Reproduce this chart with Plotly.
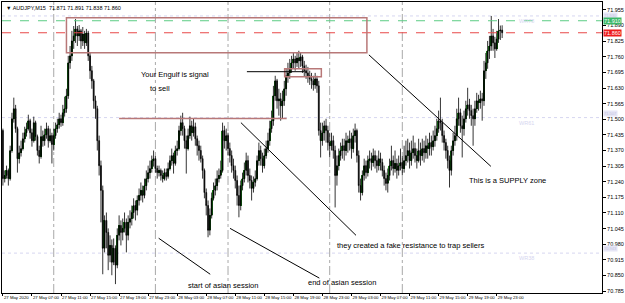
import plotly.graph_objects as go

first_open = 71.453
close = [
71.253,71.266,71.287,71.253,71.370,71.502,71.544,71.461,71.336,71.361,
71.378,71.419,71.444,71.461,71.494,71.444,71.411,71.486,71.428,71.370,
71.345,71.428,71.411,71.436,71.461,71.411,71.432,71.395,71.432,71.461,
71.478,71.502,71.486,71.527,71.544,71.598,71.735,71.764,71.826,71.847,
71.876,71.847,71.868,71.826,71.855,71.818,71.859,71.764,71.702,71.660,
71.577,71.544,71.411,71.307,71.204,70.963,71.079,71.029,70.934,70.975,
70.905,70.963,70.893,71.017,71.058,71.029,71.046,71.071,71.017,71.071,
71.087,71.112,71.141,71.121,71.162,71.183,71.204,71.183,71.224,71.253,
71.278,71.295,71.328,71.336,71.295,71.278,71.287,71.266,71.253,71.278,
71.262,71.295,71.328,71.349,71.316,71.370,71.378,71.453,71.486,71.461,
71.411,71.378,71.432,71.473,71.444,71.469,71.419,71.390,71.370,71.336,
71.287,71.195,71.141,71.038,71.100,71.171,71.204,71.224,71.253,71.266,
71.287,71.453,71.411,71.432,71.378,71.349,71.307,71.287,71.245,71.183,
71.141,71.224,71.253,71.287,71.328,71.266,71.245,71.212,71.237,71.253,
71.328,71.370,71.336,71.307,71.349,71.378,71.411,71.461,71.494,71.598,
71.660,71.577,71.585,71.556,71.577,71.627,71.681,71.693,71.710,71.735,
71.751,71.735,71.755,71.743,71.760,71.722,71.702,71.693,71.681,71.668,
71.660,71.643,71.668,71.639,71.453,71.411,71.444,71.473,71.453,71.403,
71.390,71.411,71.370,71.266,71.307,71.349,71.370,71.390,71.370,71.411,
71.403,71.419,71.378,71.432,71.453,71.349,71.224,71.195,71.266,71.307,
71.278,71.328,71.336,71.320,71.349,71.328,71.307,71.336,71.320,71.287,
71.253,71.233,71.266,71.307,71.328,71.295,71.316,71.287,71.307,71.320,
71.295,71.328,71.349,71.370,71.328,71.361,71.378,71.349,71.328,71.370,
71.349,71.378,71.361,71.390,71.378,71.403,71.386,71.411,71.432,71.461,
71.494,71.486,71.432,71.403,71.370,71.328,71.287,71.370,71.411,71.432,
71.502,71.527,71.473,71.461,71.502,71.544,71.560,71.536,71.515,71.502,
71.544,71.577,71.569,71.585,71.577,71.702,71.735,71.785,71.805,71.847,
71.818,71.793,71.834,71.868,71.871,71.860]
high = [
71.461,71.287,71.307,71.295,71.390,71.527,71.590,71.560,71.469,71.390,
71.411,71.444,71.469,71.486,71.519,71.502,71.461,71.511,71.494,71.436,
71.390,71.473,71.453,71.461,71.486,71.473,71.461,71.444,71.461,71.486,
71.502,71.527,71.519,71.560,71.594,71.627,71.764,71.805,71.868,71.888,
71.917,71.888,71.892,71.876,71.884,71.868,71.876,71.868,71.776,71.722,
71.668,71.598,71.556,71.432,71.328,71.224,71.100,71.112,71.046,71.017,
71.000,71.004,70.975,71.046,71.100,71.079,71.087,71.112,71.087,71.100,
71.121,71.141,71.171,71.162,71.183,71.212,71.237,71.224,71.253,71.287,
71.307,71.328,71.349,71.370,71.349,71.307,71.307,71.295,71.287,71.295,
71.295,71.320,71.349,71.378,71.361,71.390,71.411,71.473,71.515,71.527,
71.473,71.432,71.461,71.511,71.494,71.502,71.486,71.432,71.411,71.390,
71.349,71.295,71.212,71.162,71.129,71.195,71.237,71.253,71.287,71.295,
71.328,71.486,71.473,71.461,71.444,71.403,71.370,71.336,71.307,71.266,
71.224,71.245,71.278,71.320,71.361,71.349,71.295,71.266,71.262,71.287,
71.349,71.403,71.390,71.361,71.378,71.411,71.444,71.494,71.536,71.639,
71.681,71.668,71.627,71.610,71.619,71.660,71.710,71.735,71.751,71.764,
71.776,71.764,71.776,71.785,71.776,71.768,71.743,71.727,71.718,71.702,
71.693,71.681,71.693,71.681,71.660,71.486,71.486,71.494,71.502,71.473,
71.444,71.444,71.432,71.390,71.349,71.378,71.403,71.419,71.419,71.444,
71.432,71.453,71.444,71.461,71.482,71.461,71.370,71.253,71.287,71.336,
71.328,71.349,71.370,71.361,71.378,71.370,71.349,71.370,71.361,71.336,
71.307,71.278,71.295,71.336,71.390,71.349,71.370,71.336,71.349,71.378,
71.349,71.390,71.411,71.419,71.403,71.411,71.432,71.403,71.378,71.419,
71.403,71.419,71.411,71.432,71.419,71.444,71.432,71.453,71.473,71.502,
71.536,71.590,71.502,71.453,71.419,71.390,71.349,71.390,71.444,71.473,
71.544,71.590,71.544,71.515,71.536,71.577,71.631,71.585,71.560,71.544,
71.577,71.610,71.602,71.619,71.610,71.743,71.776,71.826,71.847,71.930,
71.876,71.843,71.868,71.917,71.890,71.891]
low = [
71.224,71.237,71.253,71.224,71.245,71.361,71.486,71.444,71.278,71.316,
71.345,71.370,71.403,71.428,71.453,71.419,71.386,71.403,71.411,71.349,
71.316,71.336,71.386,71.390,71.419,71.382,71.403,71.316,71.370,71.419,
71.444,71.461,71.469,71.473,71.511,71.527,71.585,71.710,71.743,71.793,
71.818,71.805,71.826,71.793,71.805,71.793,71.805,71.743,71.668,71.627,
71.544,71.502,71.370,71.266,71.071,70.855,70.946,70.963,70.872,70.905,
70.851,70.893,70.814,70.880,70.996,70.975,70.996,71.029,70.946,70.996,
71.046,71.058,71.087,71.079,71.100,71.141,71.162,71.154,71.171,71.204,
71.237,71.253,71.278,71.303,71.278,71.253,71.262,71.245,71.237,71.245,
71.245,71.253,71.287,71.307,71.274,71.307,71.349,71.370,71.432,71.432,
71.378,71.274,71.370,71.419,71.411,71.428,71.390,71.349,71.328,71.320,
71.253,71.171,71.100,71.009,71.017,71.087,71.162,71.183,71.204,71.237,
71.253,71.278,71.378,71.370,71.349,71.320,71.278,71.253,71.212,71.141,
71.092,71.121,71.204,71.237,71.266,71.237,71.212,71.162,71.195,71.220,
71.245,71.307,71.307,71.278,71.295,71.336,71.361,71.390,71.444,71.473,
71.577,71.544,71.515,71.494,71.502,71.556,71.598,71.652,71.668,71.693,
71.710,71.702,71.718,71.710,71.718,71.693,71.677,71.668,71.652,71.643,
71.627,71.619,71.627,71.610,71.432,71.341,71.390,71.411,71.403,71.370,
71.341,71.370,71.336,71.133,71.224,71.287,71.328,71.336,71.328,71.349,
71.361,71.370,71.336,71.361,71.403,71.320,71.195,71.162,71.183,71.245,
71.253,71.262,71.295,71.287,71.303,71.295,71.278,71.287,71.287,71.262,
71.224,71.204,71.195,71.245,71.287,71.266,71.278,71.253,71.266,71.287,
71.266,71.278,71.307,71.320,71.295,71.307,71.336,71.320,71.295,71.320,
71.307,71.328,71.320,71.336,71.336,71.349,71.349,71.370,71.386,71.411,
71.444,71.453,71.403,71.370,71.336,71.295,71.216,71.266,71.349,71.390,
71.411,71.473,71.444,71.341,71.432,71.486,71.515,71.502,71.473,71.390,
71.473,71.527,71.536,71.544,71.494,71.556,71.668,71.710,71.751,71.785,
71.785,71.755,71.785,71.818,71.830,71.838]
opens = [first_open] + close[:-1]
bars = list(range(len(close)))

tick_bars = [0, 16, 32, 48, 64, 80, 96, 112, 128, 144, 160, 176, 192, 208, 224, 240, 256, 272]
tick_text = ["27 May 2020", "27 May 07:00", "27 May 11:00", "27 May 15:00", "27 May 19:00",
             "27 May 23:00", "28 May 03:00", "28 May 07:00", "28 May 11:00", "28 May 15:00",
             "28 May 19:00", "28 May 23:00", "29 May 03:00", "29 May 07:00", "29 May 11:00",
             "29 May 15:00", "29 May 19:00", "29 May 23:00"]
price_ticks = [71.955, 71.890, 71.825, 71.760, 71.695, 71.630, 71.565, 71.500, 71.435, 71.370,
               71.305, 71.240, 71.175, 71.110, 71.045, 70.980, 70.915, 70.850, 70.785]

session_bars = [28, 84, 124, 180, 220]
wr_levels = [71.930, 71.507, 70.943]
wr_names = ["WR78", "WR61", "WR38"]
wr_anchor = ["middle", "bottom", "bottom"]
ask_price = 71.910
bid_price = 71.860

supply_box = dict(x0=35, x1=200.5, y0=71.777, y1=71.922)
small_box = dict(x0=155.2, x1=175.4, y0=71.677, y1=71.710)
resist_line = dict(x0=64, x1=156.3, y=71.503)
fake_line = dict(x0=134.4, x1=166.1, y=71.698)
arrows = [((85.8, 71.005), (114.2, 70.855)), ((125.1, 71.046), (174.3, 70.839)),
          ((131.1, 71.486), (194.5, 71.017)), ((201.6, 71.768), (268.8, 71.304))]
notes = [(74.9, 71.685, "Your Engulf is signal"), (79.8, 71.627, "to sell"),
         (255.7, 71.245, "This is a SUPPLY zone"),
         (183.0, 70.975, "they created a fake resistance to trap sellers"),
         (100.6, 70.810, "start of asian session"), (167.2, 70.822, "end of asian session")]

bull_x = [i for i in bars if close[i] > opens[i]]
bull_base = [opens[i] for i in bull_x]
bull_len = [close[i] - opens[i] for i in bull_x]

font_main = "Arial, Liberation Sans"

fig = go.Figure()
fig.add_trace(go.Candlestick(
    x=bars, open=opens, high=high, low=low, close=close,
    increasing=dict(line=dict(color="#000000", width=0.8), fillcolor="#000000"),
    decreasing=dict(line=dict(color="#000000", width=0.8), fillcolor="#000000"),
    whiskerwidth=0, hoverinfo="skip", showlegend=False))
fig.add_trace(go.Bar(x=bull_x, base=bull_base, y=bull_len, width=0.75,
                     marker=dict(color="#1e9e1e", line=dict(width=0)),
                     hoverinfo="skip", showlegend=False))

shapes = []
for b in session_bars:
    shapes.append(dict(type="line", xref="x", yref="paper", x0=b, x1=b, y0=0, y1=1,
                       line=dict(color="#a8a8a8", width=1, dash="dashdot"), layer="below"))
for lv in wr_levels:
    shapes.append(dict(type="line", xref="paper", yref="y", x0=0, x1=1, y0=lv, y1=lv,
                       line=dict(color="#d6d6f0", width=1, dash="dot"), layer="below"))
shapes.append(dict(type="line", xref="paper", yref="y", x0=0, x1=1, y0=ask_price, y1=ask_price,
                   line=dict(color="#5ccc85", width=1, dash="dash")))
shapes.append(dict(type="line", xref="paper", yref="y", x0=0, x1=1, y0=bid_price, y1=bid_price,
                   line=dict(color="#e84848", width=1, dash="dash")))
shapes.append(dict(type="rect", xref="x", yref="y", **supply_box, line=dict(color="#b87878", width=1.5)))
shapes.append(dict(type="rect", xref="x", yref="y", **small_box, line=dict(color="#b87878", width=1.5)))
shapes.append(dict(type="line", xref="x", yref="y", x0=resist_line["x0"], x1=resist_line["x1"],
                   y0=resist_line["y"], y1=resist_line["y"], line=dict(color="#b87878", width=1.5)))
shapes.append(dict(type="line", xref="x", yref="y", x0=fake_line["x0"], x1=fake_line["x1"],
                   y0=fake_line["y"], y1=fake_line["y"], line=dict(color="#000000", width=1)))
for (a, b) in arrows:
    shapes.append(dict(type="line", xref="x", yref="y", x0=a[0], y0=a[1], x1=b[0], y1=b[1],
                       line=dict(color="#000000", width=1)))

annotations = []
for x, y, t in notes:
    annotations.append(dict(x=x, y=y, xref="x", yref="y", text=t, showarrow=False,
                            xanchor="left", yanchor="middle",
                            font=dict(family=font_main, size=7.5, color="#000000")))
for lv, nm, anc in zip(wr_levels, wr_names, wr_anchor):
    annotations.append(dict(x=283, y=lv, xref="x", yref="y", text=nm, showarrow=False,
                            xanchor="left", yanchor="top",
                            font=dict(family=font_main, size=5.5, color="#d6d6f0")))
    annotations.append(dict(x=1.0, y=lv, xref="paper", yref="y", text=f"{lv:.3f}", showarrow=False,
                            xanchor="left", yanchor=anc, xshift=1, yshift=(1 if anc == "bottom" else 0),
                            bgcolor="#e6e6f6", borderpad=0,
                            font=dict(family=font_main, size=4, color="#c4c4e0")))
annotations.append(dict(x=1.0, y=ask_price, xref="paper", yref="y", text=f"{ask_price:.3f}", showarrow=False,
                        xanchor="left", yanchor="middle", xshift=1, bgcolor="#3cb868", borderpad=0,
                        font=dict(family=font_main, size=5.5, color="#ffffff")))
annotations.append(dict(x=1.0, y=bid_price, xref="paper", yref="y", text=f"{bid_price:.3f}", showarrow=False,
                        xanchor="left", yanchor="middle", xshift=1, bgcolor="#ee1c1c", borderpad=0,
                        font=dict(family=font_main, size=5.5, color="#ffffff")))
header = "▼ AUDJPY,M15  %.3f %.3f %.3f %.3f" % (opens[-1], high[-1], low[-1], close[-1])
annotations.append(dict(x=0.004, y=0.995, xref="paper", yref="paper", text=header, showarrow=False,
                        xanchor="left", yanchor="top",
                        font=dict(family=font_main, size=5.5, color="#000000")))

fig.update_layout(
    width=625, height=303, margin=dict(l=1, r=19, t=1, b=10),
    paper_bgcolor="#ffffff", plot_bgcolor="#ffffff", bargap=0,
    shapes=shapes, annotations=annotations, showlegend=False,
    xaxis=dict(range=[-0.5, 330], tickmode="array", tickvals=tick_bars, ticktext=tick_text,
               tickangle=0, ticklabelposition="outside right", ticks="outside", ticklen=2,
               tickcolor="#000000",
               tickfont=dict(family=font_main, size=4.3, color="#000000"),
               showgrid=False, zeroline=False, showline=True, linecolor="#000000", linewidth=1,
               mirror=True, rangeslider=dict(visible=False), fixedrange=True),
    yaxis=dict(range=[70.777, 71.988], side="right", tickmode="array", tickvals=price_ticks,
               ticktext=[f"{v:.3f}" for v in price_ticks], ticks="outside", ticklen=3,
               tickcolor="#000000", tickfont=dict(family=font_main, size=5.5, color="#000000"),
               showgrid=False, zeroline=False, showline=True, linecolor="#000000", linewidth=1,
               mirror=True, fixedrange=True),
)
fig.write_html("out.html")
